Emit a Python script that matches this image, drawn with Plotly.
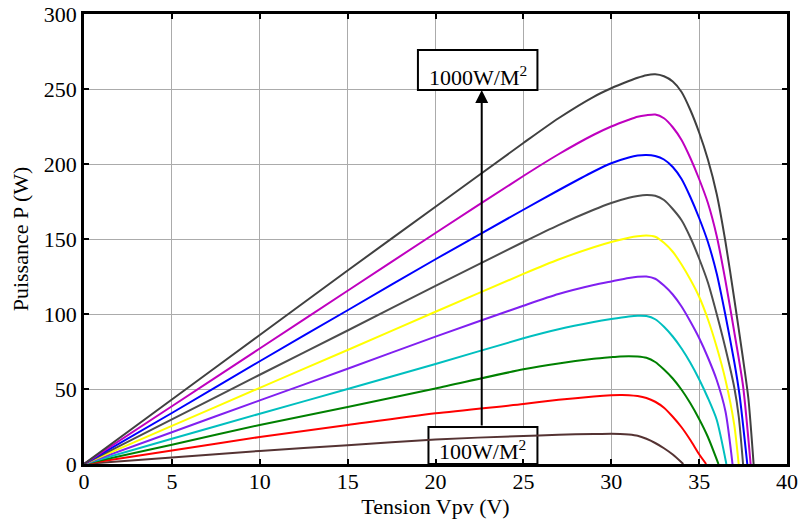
import plotly.graph_objects as go

# P-V characteristics of the PV panel for irradiance levels 100 ... 1000 W/m2
irradiance = [100, 200, 300, 400, 500, 600, 700, 800, 900, 1000]

v_100 = [0, 5, 10, 15, 20, 25, 27, 29, 30, 30.5, 31, 31.5, 32, 32.5, 33, 33.5, 34.1]
p_100 = [0, 4.4, 8.7, 12.5, 16.4, 18.7, 19.5, 20, 20.1, 20, 19.6, 18.8, 16.8, 14, 10.5, 6.3, 0]

v_200 = [0, 5, 10, 15, 20, 25, 27, 29, 30, 30.5, 31, 31.5, 32, 32.5, 33, 33.5, 34, 34.5, 35, 35.4]
p_200 = [0, 9, 18, 26, 33.8, 40, 42.8, 45, 45.8, 46, 45.9, 45.3, 44, 41.5, 37.5, 31.5, 24.5, 16, 6.5, 0]

v_300 = [0, 5, 10, 15, 20, 25, 27, 29, 30, 30.5, 31, 31.5, 32, 32.5, 33, 33.5, 34, 34.5, 35, 35.5, 36.1]
p_300 = [0, 12.8, 26, 38, 50.4, 63.1, 67, 70.1, 71.2, 71.7, 71.9, 71.7, 70.8, 68, 63, 57, 49.5, 40.5, 30, 18, 0]

v_400 = [0, 5, 10, 15, 20, 25, 27, 29, 30, 31, 31.5, 32, 32.5, 33, 33.5, 34, 34.5, 35, 35.5, 36, 36.55]
p_400 = [0, 16.8, 33.5, 50, 66.7, 83.8, 89.8, 94.6, 96.6, 98.3, 98.8, 98.6, 96.5, 91.5, 85, 77, 67.5, 56.5, 44,
         29.5, 0]

v_500 = [0, 5, 10, 15, 20, 25, 27, 29, 30, 31, 31.5, 32, 32.5, 33, 33.5, 34, 34.5, 35, 35.5, 36, 36.5, 36.9]
p_500 = [0, 21.2, 42.4, 63.5, 84.9, 105.5, 113.3, 119.3, 121.7, 124, 124.8, 125, 123.5, 119, 113, 105, 95, 84,
         71, 56, 35, 0]

v_600 = [0, 5, 10, 15, 20, 25, 27, 29, 30, 31, 31.5, 32, 32.5, 33, 33.5, 34, 34.5, 35, 35.5, 36, 36.5, 37, 37.25]
p_600 = [0, 25.4, 50.8, 76, 101.5, 126.7, 136.3, 144.5, 148, 150.8, 151.8, 152.3, 151.5, 147.5, 141.5, 133, 123,
         111.5, 96.5, 78, 56, 26, 0]

v_700 = [0, 5, 10, 15, 20, 25, 27, 29, 30, 31, 31.5, 32, 32.5, 33, 33.5, 34, 34.5, 35, 35.5, 36, 36.5, 37,
         37.25, 37.5]
p_700 = [0, 29.7, 59.5, 89, 118.7, 148, 159.3, 169.5, 174, 177.5, 178.7, 179.3, 178.8, 176, 170, 162.5, 151,
         137, 121, 100, 77, 51, 32, 0]

v_800 = [0, 5, 10, 15, 20, 25, 27, 29, 30, 31, 31.5, 32, 32.5, 33, 33.5, 34, 34.5, 35, 35.5, 36, 36.5, 37,
         37.3, 37.74]
p_800 = [0, 34, 68.5, 102.5, 136.5, 169.5, 182.5, 195, 200.5, 204.3, 205.6, 206, 205.3, 203, 198, 190, 178,
         164, 148, 127, 99, 68, 46, 0]

v_900 = [0, 5, 10, 15, 20, 25, 27, 29, 30, 31, 31.5, 32, 32.5, 33, 33.5, 34, 34.5, 35, 35.5, 36, 36.5, 37,
         37.5, 37.93]
p_900 = [0, 38.5, 77, 115.5, 154, 192, 206.5, 219.5, 225, 229.5, 231.5, 232.5, 233, 230.5, 224.5, 216, 204,
         190, 174, 152, 122, 88, 52, 0]

v_1000 = [0, 5, 10, 15, 20, 25, 27, 29, 30, 31, 31.5, 32, 32.5, 33, 33.5, 34, 34.5, 35, 35.5, 36, 36.5, 37,
          37.5, 37.8, 38.1]
p_1000 = [0, 43, 86, 129, 171.5, 214, 230.5, 244.8, 250.5, 255.3, 257.5, 259.2, 259.8, 258.5, 255, 248, 236,
          221, 203, 180, 148, 110, 70, 44, 0]

voltages = [v_100, v_200, v_300, v_400, v_500, v_600, v_700, v_800, v_900, v_1000]
powers = [p_100, p_200, p_300, p_400, p_500, p_600, p_700, p_800, p_900, p_1000]
colors = ["#553333", "#ff0000", "#008000", "#00bfbf", "#8020f0",
          "#ffff00", "#4d4d4d", "#0000ff", "#bf00bf", "#404040"]

x_ticks = list(range(0, 41, 5))
y_ticks = list(range(0, 301, 50))

FONT = "Liberation Serif, Times New Roman, serif"

fig = go.Figure()
for g, v, p, c in zip(irradiance, voltages, powers, colors):
    fig.add_trace(go.Scatter(
        x=v, y=p, mode="lines", name=f"{g} W/m2",
        line=dict(color=c, width=2, shape="spline", smoothing=0.7),
        showlegend=False, hoverinfo="skip",
    ))

# label boxes (white background hides the grid, curves stay on top)
fig.add_shape(type="rect", x0=19.0, x1=25.8, y0=249.3, y1=276,
              xref="x", yref="y", layer="between",
              line=dict(color="black", width=2), fillcolor="white")
fig.add_shape(type="rect", x0=19.6, x1=25.8, y0=0, y1=24.7,
              xref="x", yref="y", layer="between",
              line=dict(color="black", width=2), fillcolor="white")

fig.add_annotation(x=22.4, y=250.5, xref="x", yref="y", yanchor="bottom",
                   yshift=-4, text="1000W/M<sup>2</sup>", showarrow=False,
                   font=dict(family=FONT, size=22, color="black"))
fig.add_annotation(x=22.7, y=0, xref="x", yref="y", yanchor="bottom",
                   yshift=-2, text="100W/M<sup>2</sup>", showarrow=False,
                   font=dict(family=FONT, size=22, color="black"))

# arrow from the lowest to the highest irradiance label
fig.add_annotation(x=22.63, y=249.3, ax=22.63, ay=24.7,
                   xref="x", yref="y", axref="x", ayref="y",
                   text="", showarrow=True, arrowhead=2, arrowsize=1.3,
                   arrowwidth=2, arrowcolor="black")

axis_common = dict(
    showgrid=True, gridcolor="#ababab", gridwidth=1,
    showline=True, linecolor="black", linewidth=2.5, mirror="allticks",
    ticks="inside", ticklen=5, tickwidth=1.5, tickcolor="black",
    zeroline=False, automargin=False,
    tickfont=dict(family=FONT, size=22, color="black"),
)

fig.update_xaxes(range=[0, 40], tickvals=x_ticks, **axis_common,
                 ticklabelstandoff=-4,
                 title=dict(text="Tension Vpv (V)", standoff=4,
                            font=dict(family=FONT, size=22, color="black")))
fig.update_yaxes(range=[0, 300], tickvals=y_ticks, **axis_common,
                 title=dict(text="Puissance P (W)", standoff=10,
                            font=dict(family=FONT, size=22, color="black")))

fig.update_layout(
    width=800, height=521,
    margin=dict(l=84, r=13, t=14, b=57, autoexpand=False),
    plot_bgcolor="white", paper_bgcolor="white",
)

fig.write_html("out.html")
